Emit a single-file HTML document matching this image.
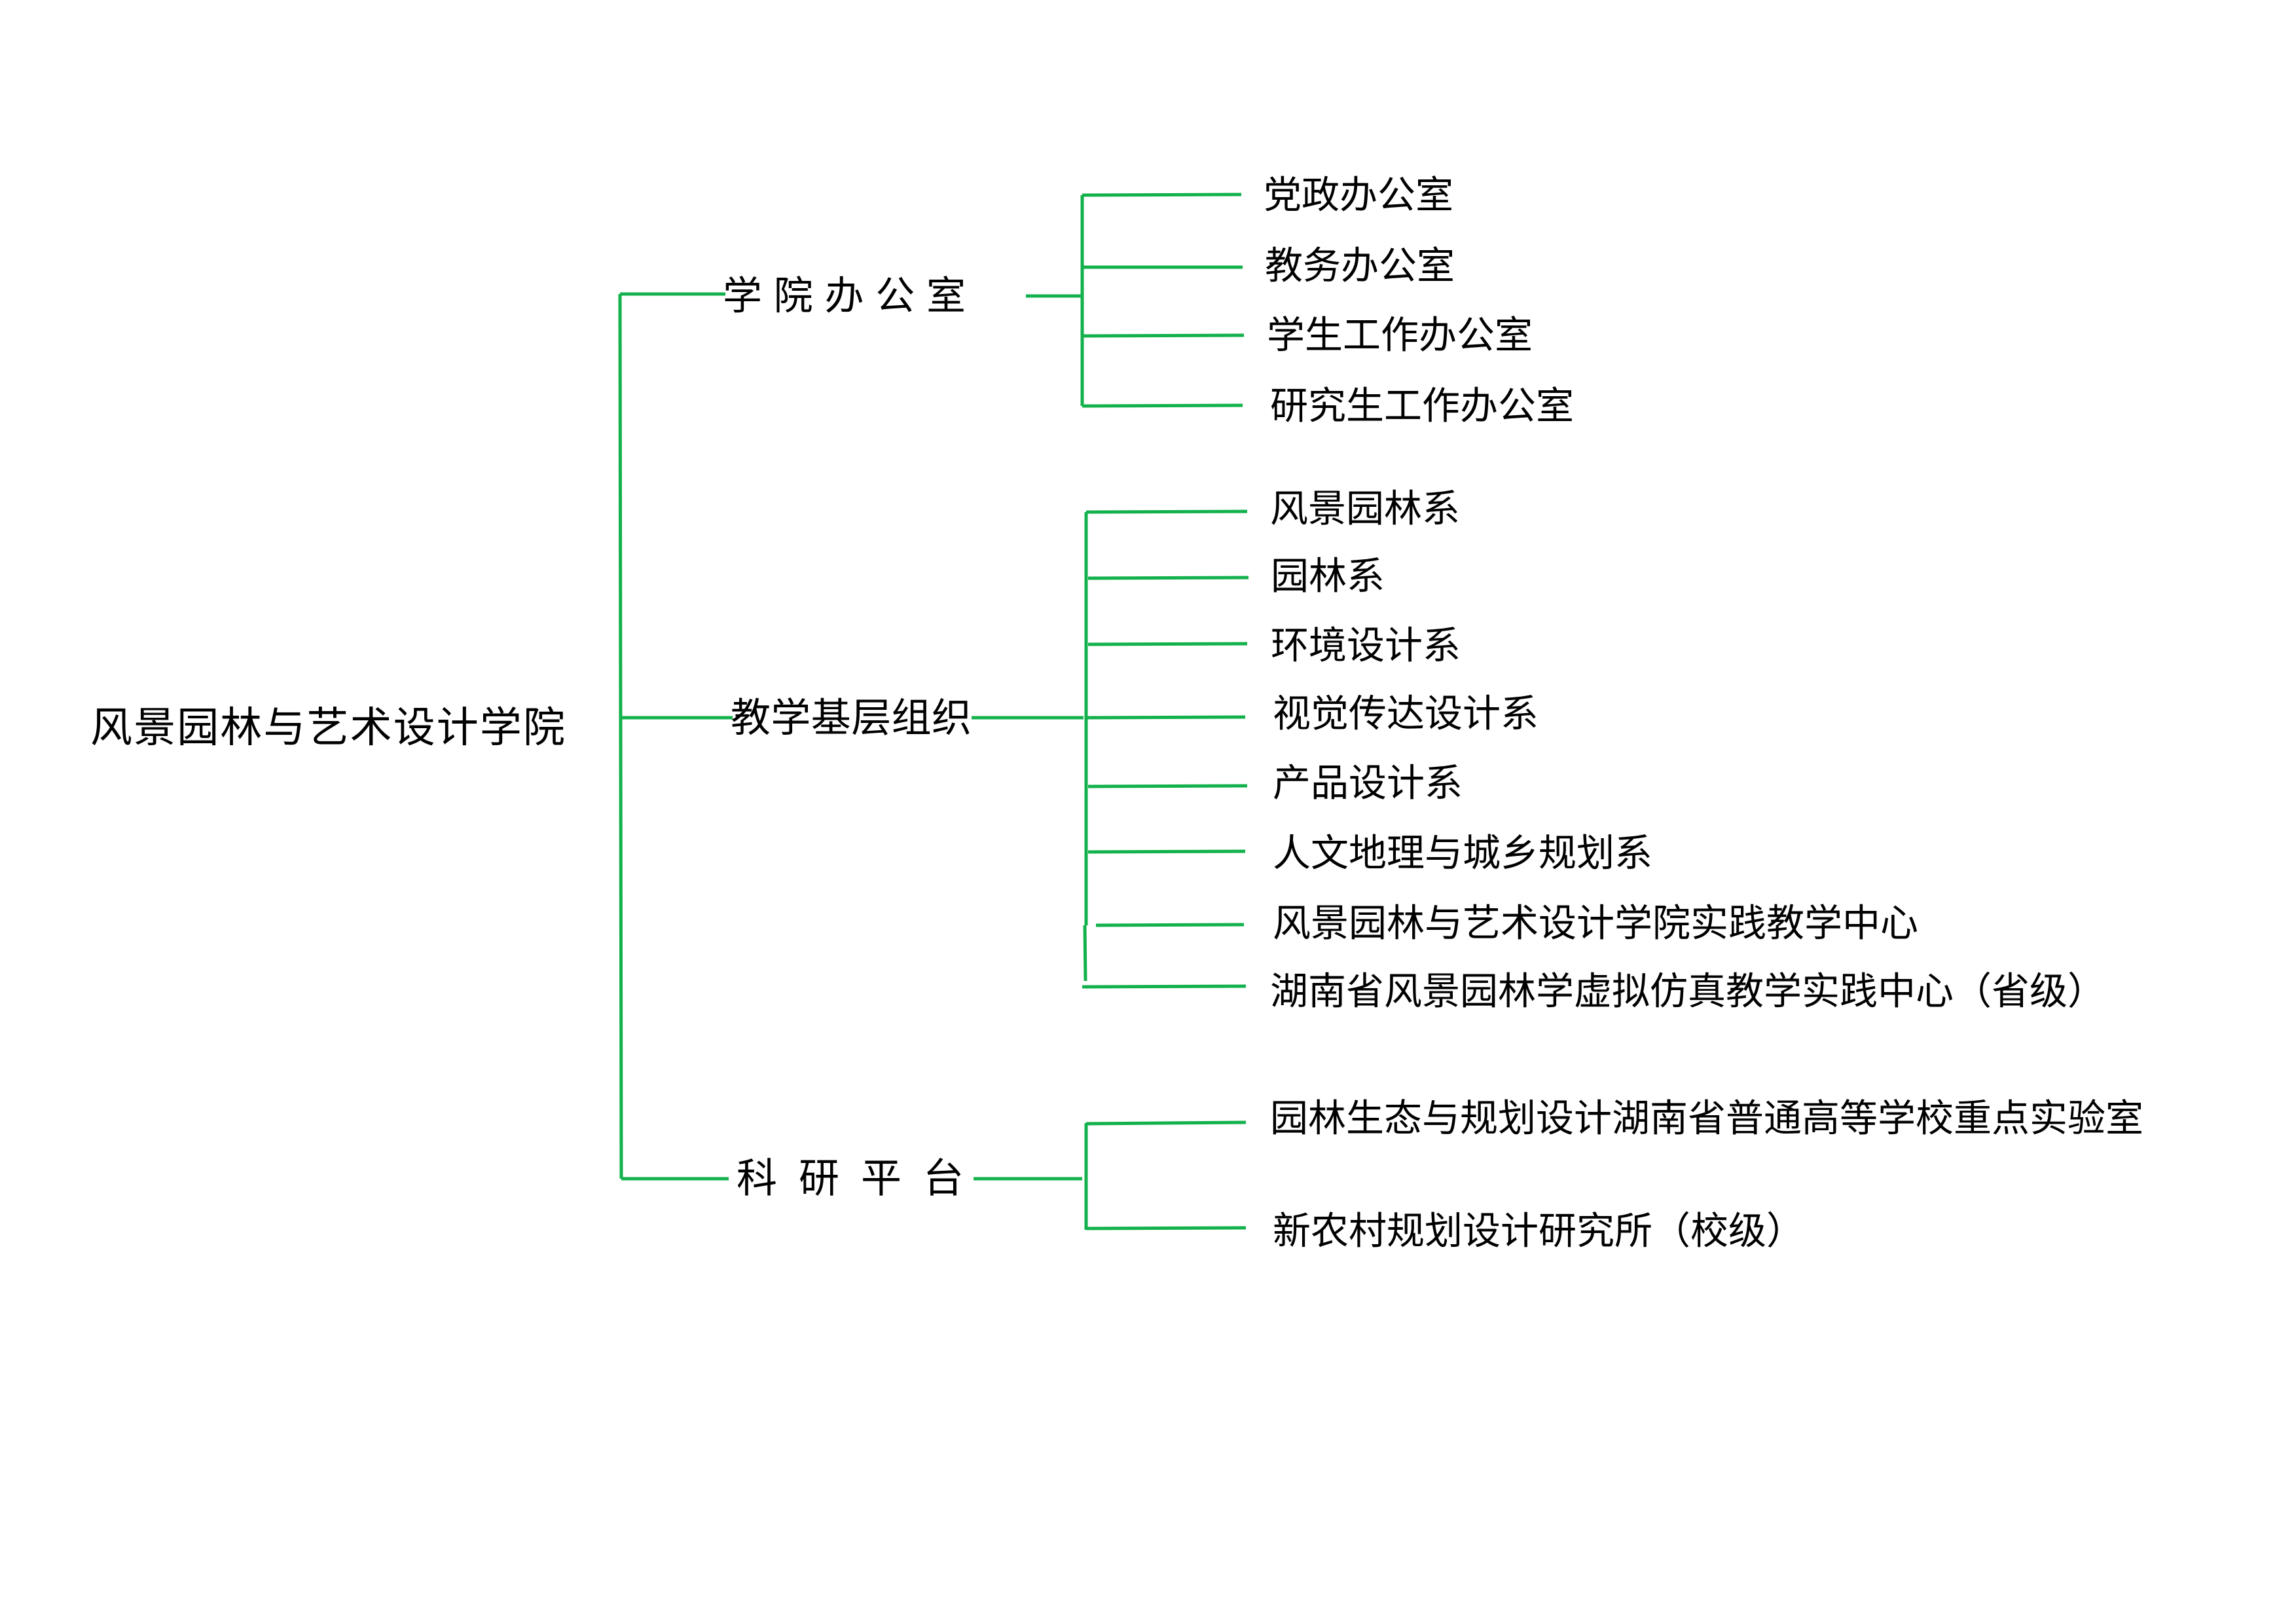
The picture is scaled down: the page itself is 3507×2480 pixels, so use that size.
<!DOCTYPE html>
<html><head><meta charset="utf-8"><style>
html,body{margin:0;padding:0;background:#fff;}
svg{display:block;}
text{font-family:"Liberation Sans","Noto Sans CJK SC",sans-serif;fill:#000;dominant-baseline:central;}
</style></head><body>
<svg width="3507" height="2480" viewBox="0 0 3507 2480" xmlns="http://www.w3.org/2000/svg">
<g stroke="#12b14c" stroke-width="5" fill="none">
<line x1="947" y1="449" x2="949" y2="1800"/>
<line x1="947" y1="449" x2="1108" y2="449"/>
<line x1="949" y1="1096" x2="1119" y2="1096"/>
<line x1="949" y1="1800" x2="1113" y2="1800"/>
<line x1="1567" y1="452" x2="1653" y2="452"/>
<line x1="1653" y1="298" x2="1653" y2="620"/>
<line x1="1653" y1="298" x2="1896" y2="297"/>
<line x1="1653" y1="408" x2="1898" y2="408"/>
<line x1="1653" y1="513" x2="1900" y2="512"/>
<line x1="1653" y1="620" x2="1898" y2="619"/>
<line x1="1484" y1="1096" x2="1655" y2="1096"/>
<line x1="1659" y1="782" x2="1659" y2="1413"/>
<line x1="1657" y1="1413" x2="1658" y2="1498"/>
<line x1="1659" y1="782" x2="1905" y2="781"/>
<line x1="1662" y1="883" x2="1907" y2="882"/>
<line x1="1662" y1="984" x2="1905" y2="983"/>
<line x1="1659" y1="1096" x2="1902" y2="1095"/>
<line x1="1662" y1="1201" x2="1905" y2="1200"/>
<line x1="1662" y1="1301" x2="1902" y2="1300"/>
<line x1="1674" y1="1413" x2="1900" y2="1412"/>
<line x1="1653" y1="1507" x2="1903" y2="1506"/>
<line x1="1487" y1="1800" x2="1653" y2="1800"/>
<line x1="1659" y1="1715" x2="1659" y2="1878"/>
<line x1="1659" y1="1716" x2="1903" y2="1714"/>
<line x1="1659" y1="1876" x2="1903" y2="1875"/>
</g>
<text x="138" y="1111" font-size="64" textLength="725">风景园林与艺术设计学院</text>
<text x="1104" y="452" font-size="60" textLength="371">学院办公室</text>
<text x="1116" y="1096" font-size="61" textLength="368">教学基层组织</text>
<text x="1125" y="1800" font-size="62" textLength="347">科研平台</text>
<g font-size="58">
<text x="1930" y="298">党政办公室</text>
<text x="1932" y="406">教务办公室</text>
<text x="1935" y="512">学生工作办公室</text>
<text x="1940" y="620">研究生工作办公室</text>
<text x="1940" y="777">风景园林系</text>
<text x="1941" y="880">园林系</text>
<text x="1941" y="986">环境设计系</text>
<text x="1944" y="1090">视觉传达设计系</text>
<text x="1944" y="1196">产品设计系</text>
<text x="1944" y="1303">人文地理与城乡规划系</text>
<text x="1944" y="1410">风景园林与艺术设计学院实践教学中心</text>
<text x="1940" y="1514">湖南省风景园林学虚拟仿真教学实践中心（省级）</text>
<text x="1940" y="1708">园林生态与规划设计湖南省普通高等学校重点实验室</text>
<text x="1944" y="1880">新农村规划设计研究所（校级）</text>
</g>
</svg>
</body></html>
